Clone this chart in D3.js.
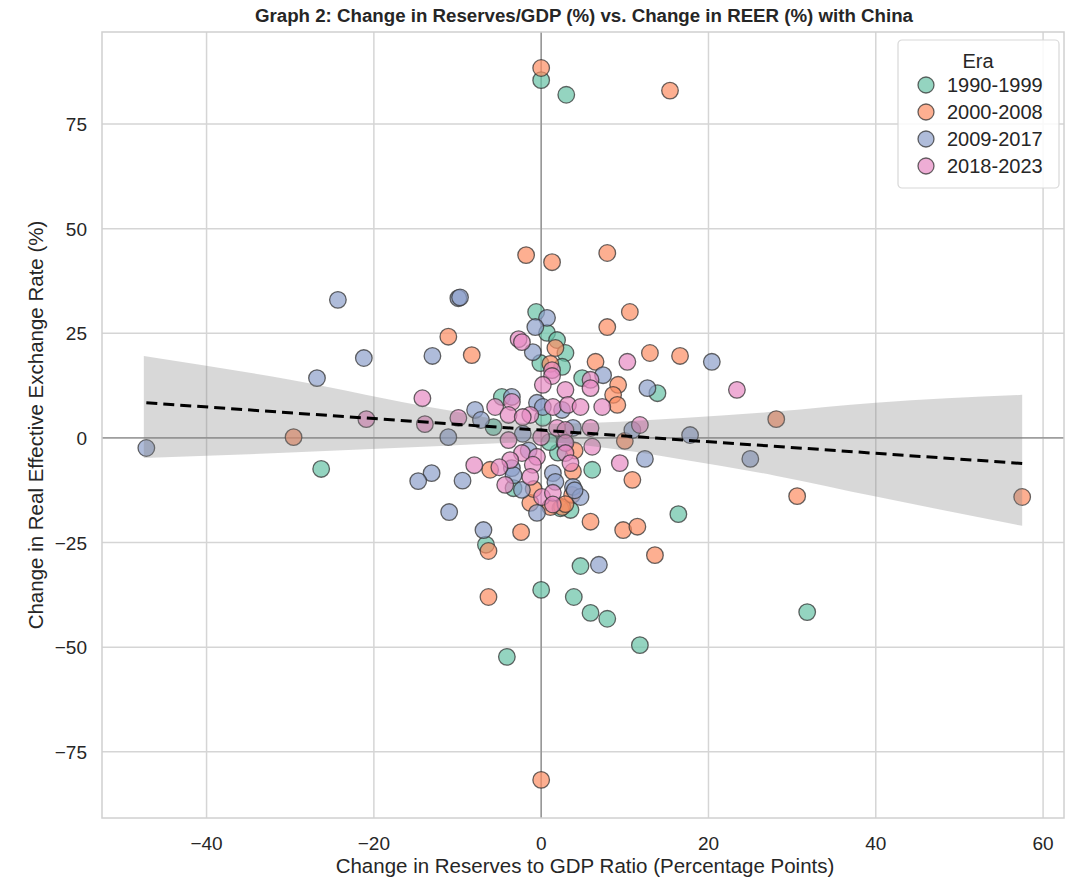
<!DOCTYPE html>
<html>
<head>
<meta charset="utf-8">
<script src="https://cdn.jsdelivr.net/npm/d3@7"></script>
<style>
  body { margin: 0; background: #fff; }
  text { font-family: "Liberation Sans", Arial, sans-serif; fill: #262626; }
</style>
</head>
<body>
<div class="canvas"></div>
<script>
var width = 1071,
    height = 879;

var eras = ["1990-1999", "2000-2008", "2009-2017", "2018-2023"];
var eraColors = ["#66c2a5", "#fc8d62", "#8da0cb", "#e78ac3"];

// [reserves change, REER change] per era
var pts1990 = [
    [0, 85.5], [3, 82], [-26.3, -7.4], [-6.6, -25.5], [-4.1, -52.3], [0, -36.3],
    [3.9, -38], [4.7, -30.6], [5.9, -41.8], [7.9, -43.2], [11.8, -49.5], [16.4, -18.2],
    [31.8, -41.6], [13.9, 10.7], [6.1, -7.6], [-0.6, 30.1], [0.7, 25.1], [1.9, 23.4],
    [2.9, 20.3], [-0.1, 17.9], [2.5, 17], [4.9, 14.3], [-4.7, 9.8], [-5.7, 2.6],
    [3.5, -17.2], [0.2, 4.8], [-3.3, -12], [2, -3.5], [1, -1], [2.3, -16.8]
];
var pts2000 = [
    [0, 88.4], [15.4, 83], [-1.8, 43.7], [1.3, 42], [7.9, 44.2], [-29.6, 0.2],
    [-8.3, 19.8], [-11.1, 24.2], [-6.3, -27], [-6.3, -38], [-2.4, -22.5], [0, -81.7],
    [-6.1, -7.6], [10.6, 30.1], [7.9, 26.5], [13, 20.3], [16.6, 19.6], [6.5, 18.2],
    [28.1, 4.5], [10, -0.7], [10.9, -10], [5.9, -20], [9.8, -22], [11.5, -21.2],
    [13.6, -28], [30.6, -13.9], [57.5, -14.1], [1.7, 21.5], [1.1, 17.7], [9.2, 12.7],
    [8.6, 10.3], [9.1, 7.9], [2.5, -16.5], [1.1, -16.5], [-1.3, -15.5], [3.7, -13.6],
    [2.9, -15.8], [-0.9, -12.2], [4, -3], [3.8, -8]
];
var pts2009 = [
    [-47.2, -2.4], [-26.8, 14.3], [-24.3, 33], [-21.2, 19.1], [-13, 19.6], [-9.9, 33.4],
    [-9.7, 33.6], [-11.1, 0.2], [-13.1, -8.4], [-14.7, -10.3], [-9.4, -10.2], [-11, -17.7],
    [-6.9, -22], [-7.9, 6.7], [-7.2, 4.3], [20.4, 18.2], [12.7, 11.9], [17.8, 0.7],
    [25, -5], [12.4, -5], [10.9, 1.9], [6.9, -30.3], [0.7, 28.7], [-0.7, 26.5],
    [-1, 20.5], [7.4, 15], [-3.5, 9.8], [-0.5, 8.4], [0.2, 7.4], [2.5, 6.7],
    [3.8, 2.4], [-3.5, -7.2], [1.4, -8.4], [1.7, -10.5], [-2.3, -12.4], [3.8, -11.7],
    [4.7, -14.1], [-0.5, -17.9], [-3.3, -8.9], [2.8, -1], [-2.2, 1], [-1.5, -3],
    [4, -12.5]
];
var pts2018 = [
    [-20.9, 4.5], [-14.2, 9.5], [-13.9, 3.3], [-9.9, 4.8], [-8, -6.5], [-5.5, 7.4],
    [-2.7, 23.6], [-2.3, 22.9], [1.3, 16.2], [1.3, 14.8], [5.9, 13.9], [5.9, 11.9],
    [0.2, 12.7], [2.9, 11.5], [7.3, 7.4], [-3.5, 8.6], [-3.9, 5.5], [-1.3, 5.5],
    [-2.2, 5], [1.4, 7.4], [3.2, 7.9], [4.7, 7.4], [10.3, 18.2], [23.4, 11.5],
    [11.8, 3.1], [9.4, -6], [0, 0.2], [1.9, 2.4], [2.9, 1.9], [5.9, 2.4],
    [6.1, -2.1], [2.9, -1.2], [2.9, -3.6], [-3.9, -0.5], [-2.3, -3.6], [-3.7, -5.3],
    [-0.5, -4.5], [-1, -6.4], [3.5, -6], [-4.3, -11.2], [-1.3, -9.3], [0.1, -14.1],
    [1.4, -13.1], [-5, -7], [1.4, -15.9]
];
var series = [pts1990, pts2000, pts2009, pts2018];

// confidence band edges of the fit
var bandX = [-47.5, -30, -12, 0, 9.4, 16.5, 28, 40, 57.5];
var bandHi = [19.6, 13.9, 6.9, 3.4, 3.9, 4.7, 6.3, 8.4, 10.3];
var bandLo = [-4.8, -3.5, -1.9, -1.0, -2.8, -5.0, -9, -14, -21];

var xTicks = [-40, -20, 0, 20, 40, 60];
var yTicks = [-75, -50, -25, 0, 25, 50, 75];

var margin = {top: 32, right: 7, bottom: 61, left: 102};
var plotW = width - margin.left - margin.right,
    plotH = height - margin.top - margin.bottom;

var svg = d3.select(".canvas").append("svg")
    .attr("width", width)
    .attr("height", height);

var x = d3.scaleLinear().domain([-52.5, 62.5]).range([margin.left, margin.left + plotW]);
var y = d3.scaleLinear().domain([-90.8, 97]).range([margin.top + plotH, margin.top]);

// grid
var grid = svg.append("g");
grid.selectAll(".vx").data(xTicks).enter().append("line")
    .attr("x1", d => x(d)).attr("x2", d => x(d))
    .attr("y1", margin.top).attr("y2", margin.top + plotH)
    .style("stroke", "#d5d5d5").style("stroke-width", 1.5);
grid.selectAll(".hy").data(yTicks).enter().append("line")
    .attr("y1", d => y(d)).attr("y2", d => y(d))
    .attr("x1", margin.left).attr("x2", margin.left + plotW)
    .style("stroke", "#d5d5d5").style("stroke-width", 1.5);

// zero lines
svg.append("line")
    .attr("x1", x(0)).attr("x2", x(0))
    .attr("y1", margin.top).attr("y2", margin.top + plotH)
    .style("stroke", "#8a8a8a").style("stroke-width", 1.3);
svg.append("line")
    .attr("y1", y(0)).attr("y2", y(0))
    .attr("x1", margin.left).attr("x2", margin.left + plotW)
    .style("stroke", "#8a8a8a").style("stroke-width", 1.3);

// frame
svg.append("rect")
    .attr("x", margin.left).attr("y", margin.top)
    .attr("width", plotW).attr("height", plotH)
    .style("fill", "none").style("stroke", "#d0d0d0").style("stroke-width", 1.5);

// points
series.forEach(function(pts, i) {
    svg.append("g").selectAll("circle").data(pts).enter().append("circle")
        .attr("cx", d => x(d[0]))
        .attr("cy", d => y(d[1]))
        .attr("r", 8.3)
        .style("fill", eraColors[i])
        .style("fill-opacity", 0.7)
        .style("stroke", "#333")
        .style("stroke-opacity", 0.75)
        .style("stroke-width", 1.3);
});

// least squares fit over all points
var all = [].concat.apply([], series);
var mx = d3.mean(all, d => d[0]), my = d3.mean(all, d => d[1]);
var sxx = d3.sum(all, d => (d[0] - mx) * (d[0] - mx));
var sxy = d3.sum(all, d => (d[0] - mx) * (d[1] - my));
var slope = sxy / sxx, icpt = my - slope * mx;
var xExt = d3.extent(all, d => d[0]);

var band = bandX.map((v, i) => ({x: v, lo: bandLo[i], hi: bandHi[i]}));
svg.append("path").datum(band)
    .attr("d", d3.area().curve(d3.curveMonotoneX)
        .x(d => x(d.x)).y0(d => y(d.lo)).y1(d => y(d.hi)))
    .style("fill", "#7f7f7f").style("fill-opacity", 0.3);

svg.append("line")
    .attr("x1", x(xExt[0])).attr("y1", y(icpt + slope * xExt[0]))
    .attr("x2", x(xExt[1])).attr("y2", y(icpt + slope * xExt[1]))
    .style("stroke", "#000")
    .style("stroke-width", 3).style("stroke-dasharray", "11,6");

// tick labels
var fmt = d3.format("d");
svg.selectAll(".xt").data(xTicks).enter().append("text")
    .attr("x", d => x(d)).attr("y", margin.top + plotH + 32)
    .attr("text-anchor", "middle").style("font-size", "19px")
    .text(d => fmt(d));
svg.selectAll(".yt").data(yTicks).enter().append("text")
    .attr("x", margin.left - 15).attr("y", d => y(d) + 7)
    .attr("text-anchor", "end").style("font-size", "19px")
    .text(d => fmt(d));

// titles
svg.append("text")
    .attr("x", margin.left + plotW / 2 + 1).attr("y", 22)
    .attr("text-anchor", "middle")
    .style("font-size", "18.7px").style("font-weight", "bold")
    .text("Graph 2: Change in Reserves/GDP (%) vs. Change in REER (%) with China");
svg.append("text")
    .attr("x", margin.left + plotW / 2 + 2).attr("y", 873)
    .attr("text-anchor", "middle").style("font-size", "20.5px")
    .text("Change in Reserves to GDP Ratio (Percentage Points)");
svg.append("text")
    .attr("transform", "translate(43," + (margin.top + plotH / 2) + ") rotate(-90)")
    .attr("text-anchor", "middle").style("font-size", "20.5px")
    .text("Change in Real Effective Exchange Rate (%)");

// legend
var lg = svg.append("g").attr("transform", "translate(898,40)");
lg.append("rect")
    .attr("width", 161).attr("height", 148).attr("rx", 4)
    .style("fill", "#fff").style("fill-opacity", 0.85)
    .style("stroke", "#d8d8d8").style("stroke-width", 1.2);
lg.append("text").attr("x", 80).attr("y", 28)
    .attr("text-anchor", "middle").style("font-size", "20px").text("Era");
eras.forEach(function(e, i) {
    var row = lg.append("g").attr("transform", "translate(0," + (45 + i * 27) + ")");
    row.append("circle").attr("cx", 28).attr("cy", 0).attr("r", 8)
        .style("fill", eraColors[i]).style("fill-opacity", 0.7)
        .style("stroke", "#333").style("stroke-opacity", 0.75).style("stroke-width", 1.3);
    row.append("text").attr("x", 49).attr("y", 7)
        .style("font-size", "20px").text(e);
});
</script>
</body>
</html>
